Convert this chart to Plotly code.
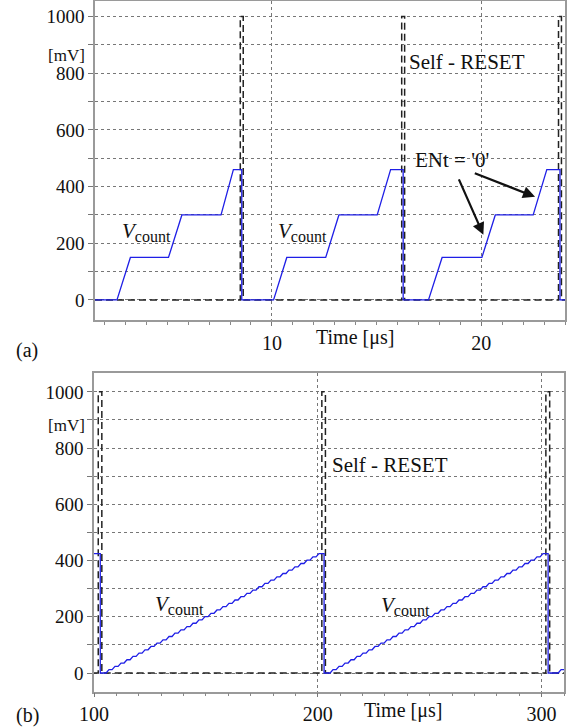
import plotly.graph_objects as go

# ---------------- data ----------------
# panel (a): Vcount staircase, time in us, voltage in mV
a_t = [1.55, 2.60, 3.24, 5.06, 5.70, 7.57, 8.16, 8.56, 8.56, 10.08, 10.71, 12.57,
       13.20, 15.03, 15.67, 16.27, 16.27, 17.48, 18.13, 20.03, 20.67, 22.48, 23.13,
       23.76, 23.76, 24.0]
a_v = [0, 0, 150, 150, 300, 300, 460, 460, 0, 0, 150, 150,
       300, 300, 460, 460, 0, 0, 150, 150, 300, 300, 460,
       460, 0, 0]
# panel (a): self-reset pulses
a_reset_rise = [8.49, 16.20, 23.69]
a_reset_fall = [8.63, 16.34, 23.83]
a_reset_high = 1000

# panel (b): fine staircase ramps
b_levels = [0, 11.8, 23.6, 35.4, 47.2, 59.0, 70.8, 82.6, 94.4, 106.2, 118.0, 129.8,
            141.6, 153.4, 165.2, 177.0, 188.8, 200.6, 212.4, 224.2, 236.0, 247.8,
            259.6, 271.4, 283.2, 295.0, 306.8, 318.6, 330.4, 342.2, 354.0, 365.8,
            377.6, 389.4, 401.2, 413.0, 424.8]
b_step_start = [0, 2.68, 5.36, 8.04, 10.72, 13.40, 16.08, 18.76, 21.44, 24.12, 26.80,
                29.48, 32.16, 34.84, 37.52, 40.20, 42.88, 45.56, 48.24, 50.92, 53.60,
                56.28, 58.96, 61.64, 64.32, 67.00, 69.68, 72.36, 75.04, 77.72, 80.40,
                83.08, 85.76, 88.44, 91.12, 93.80]
b_step_rise = 1.3
b_ramp_start = [105.4, 205.5, 307.4]
b_drop = [102.8, 202.8, 302.9]
b_reset_rise = [101.9, 201.8, 301.9]
b_reset_fall = [103.5, 203.4, 303.6]
b_reset_high = 1000

a_xticks = [10, 20]
b_xticks = [100, 200, 300]

A_XR = [1.55, 24.0]
A_YR = [-70.7, 1055]
B_XR = [100.0, 310.0]
B_YR = [-66.5, 1066]

# ---------------- build polylines ----------------
def pulses(x0, x1, rises, falls, high):
    xs, ys = [x0], [0]
    for r, f in zip(rises, falls):
        xs += [r, r, f, f]
        ys += [0, high, high, 0]
    xs.append(x1)
    ys.append(0)
    return xs, ys

ra_x, ra_y = pulses(A_XR[0], A_XR[1], a_reset_rise, a_reset_fall, a_reset_high)
rb_x, rb_y = pulses(B_XR[0], B_XR[1], b_reset_rise, b_reset_fall, b_reset_high)

vb_x, vb_y = [B_XR[0]], [b_levels[-1]]
for i, s in enumerate(b_ramp_start):
    d = b_drop[i]
    vb_x += [d, d, s]
    vb_y += [b_levels[-1], 0, 0]
    n = len(b_step_start)
    for k in range(n):
        vb_x.append(s + b_step_start[k] + b_step_rise)
        vb_y.append(b_levels[k + 1])
        if k < n - 1:
            vb_x.append(s + b_step_start[k + 1])
            vb_y.append(b_levels[k + 1])

BLUE = '#1f1fe6'
FONT = 'Liberation Serif'

fig = go.Figure()
fig.add_trace(go.Scatter(x=ra_x, y=ra_y, mode='lines', xaxis='x', yaxis='y',
                         line=dict(color='#222', width=1.5, dash='7px,4px'),
                         hoverinfo='skip'))
fig.add_trace(go.Scatter(x=a_t, y=a_v, mode='lines', xaxis='x', yaxis='y',
                         line=dict(color=BLUE, width=1.3), hoverinfo='skip'))
fig.add_trace(go.Scatter(x=rb_x, y=rb_y, mode='lines', xaxis='x2', yaxis='y2',
                         line=dict(color='#222', width=1.5, dash='7px,4px'),
                         hoverinfo='skip'))
fig.add_trace(go.Scatter(x=vb_x, y=vb_y, mode='lines', xaxis='x2', yaxis='y2',
                         line=dict(color=BLUE, width=1.3), hoverinfo='skip'))

W, H = 570, 727
common_x = dict(showline=True, linecolor='#9a9a9a', linewidth=1.5, mirror=True,
                ticks='outside', ticklen=4, tickcolor='#777', automargin=False,
                showgrid=True, gridcolor='#777', griddash='dot', gridwidth=1,
                zeroline=False, tickfont=dict(family=FONT, size=20, color='#111'))
common_y = dict(showline=True, linecolor='#9a9a9a', linewidth=1.5, mirror=True,
                ticks='outside', ticklen=5, tickcolor='#777', automargin=False,
                showgrid=True, gridcolor='#777', griddash='dot', gridwidth=1,
                zeroline=False, tick0=0, dtick=200,
                tickfont=dict(family=FONT, size=19, color='#111'),
                minor=dict(dtick=100, tick0=0, ticks='outside', ticklen=5,
                           tickcolor='#777', showgrid=True, gridcolor='#777',
                           griddash='dot', gridwidth=1))
# overlay axes carrying only the fine 20 mV tick marks
fine_y = dict(automargin=False, showline=False, showgrid=False, zeroline=False,
              showticklabels=False, ticks='outside', ticklen=3, tickcolor='#888',
              tick0=0, dtick=20)

fig.update_layout(
    width=W, height=H, margin=dict(l=0, r=0, t=0, b=0, autoexpand=False),
    paper_bgcolor='white', plot_bgcolor='white', showlegend=False,
    font=dict(family=FONT),
    xaxis=dict(domain=[95 / W, 565 / W], range=A_XR, anchor='y', tickvals=a_xticks,
               minor=dict(dtick=1, tick0=0, ticks='outside', ticklen=3,
                          tickcolor='#888', showgrid=False), **common_x),
    yaxis=dict(domain=[1 - 320 / H, 1 - 1 / H], range=A_YR, anchor='x', **common_y),
    yaxis3=dict(overlaying='y', anchor='x', side='left', range=A_YR, **fine_y),
    xaxis2=dict(domain=[94 / W, 564 / W], range=B_XR, anchor='y2', tickvals=b_xticks,
                minor=dict(dtick=10, tick0=0, ticks='outside', ticklen=3,
                           tickcolor='#888', showgrid=False), **common_x),
    yaxis2=dict(domain=[1 - 691.7 / H, 1 - 373.3 / H], range=B_YR, anchor='x2', **common_y),
    yaxis4=dict(overlaying='y2', anchor='x2', side='left', range=B_YR, **fine_y),
)

def txt(text, x, y, xref, yref, size=21):
    fig.add_annotation(text=text, x=x, y=y, xref=xref, yref=yref, showarrow=False,
                       font=dict(family=FONT, size=size, color='#111'),
                       xanchor='center', yanchor='middle')

vc = '<i>V</i><sub><span style="font-size:16px">count</span></sub>'

# panel (a) texts
txt('[mV]', 66 / W, 1 - 55 / H, 'paper', 'paper', 17)
txt('Self - RESET', 19.33, 841, 'x', 'y')
txt("ENt = '0'", 18.62, 495, 'x', 'y')
txt(vc, 4.0, 240, 'x', 'y', 21)
txt(vc, 11.48, 240, 'x', 'y', 21)
txt('Time [μs]', 355 / W, 1 - 338 / H, 'paper', 'paper', 20)
txt('(a)', 27 / W, 1 - 350 / H, 'paper', 'paper', 20)
# panel (b) texts
txt('[mV]', 66 / W, 1 - 425 / H, 'paper', 'paper', 17)
txt('Self - RESET', 232.3, 739, 'x2', 'y2')
txt(vc, 138.1, 241, 'x2', 'y2', 21)
txt(vc, 239.4, 237, 'x2', 'y2', 21)
txt('Time [μs]', 403 / W, 1 - 710 / H, 'paper', 'paper', 20)
txt('(b)', 27 / W, 1 - 715 / H, 'paper', 'paper', 20)

# arrows for ENt = '0'
for (hx, hy, tx, ty) in [(20.1, 230, 18.9, 431), (22.57, 364, 19.62, 449)]:
    fig.add_annotation(x=hx, y=hy, ax=tx, ay=ty, xref='x', yref='y', axref='x', ayref='y',
                       text='', showarrow=True, arrowhead=2, arrowsize=1.1,
                       arrowwidth=2.2, arrowcolor='#111')

fig.write_html('out.html')
